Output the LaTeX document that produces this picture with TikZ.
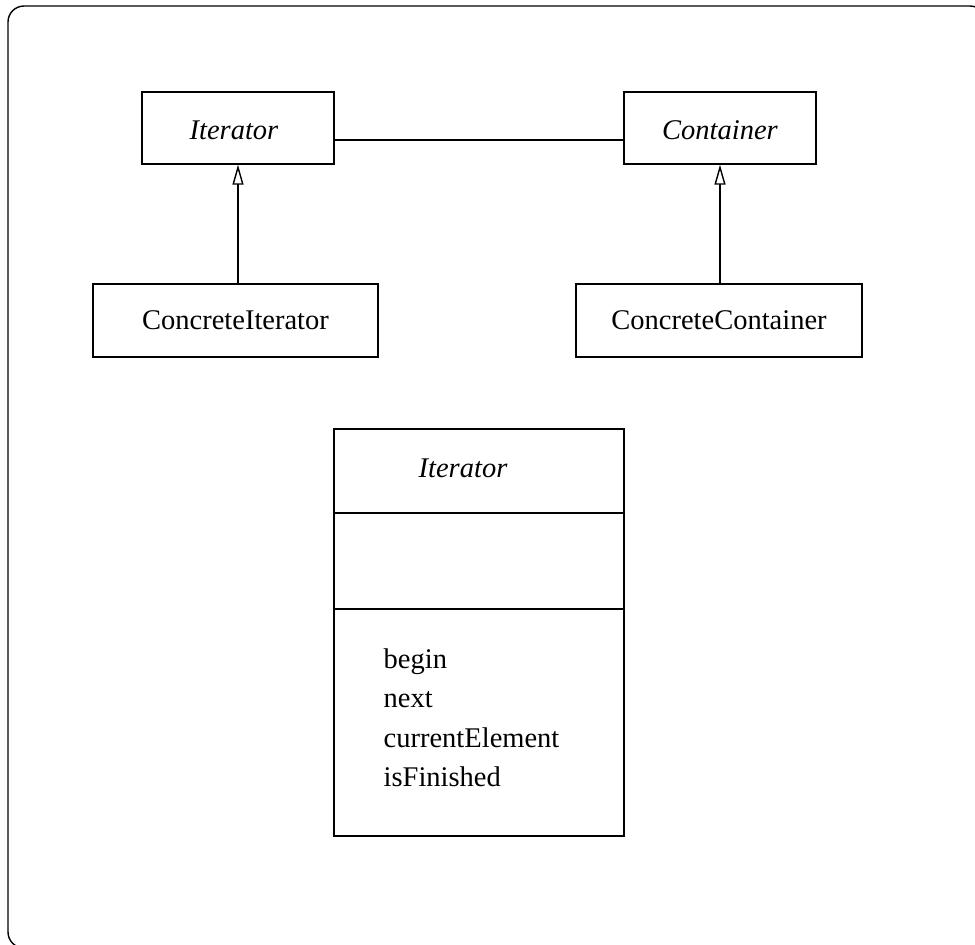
\documentclass[tikz,border=0pt]{standalone}
\usepackage{fontspec}
\setmainfont{Liberation Serif}
\usetikzlibrary{arrows.meta}
\begin{document}
\begin{tikzpicture}[x=0.5pt,y=-0.5pt,
  line width=0.7pt,
  every node/.style={font=\fontsize{14.25}{17}\selectfont},
  classbox/.style={draw, rectangle, inner sep=0pt},
  compartment/.style={draw, rectangle, inner sep=0pt, minimum width=145pt},
  label/.style={inner sep=0pt},
  oper/.style={inner sep=0pt, anchor=base west},
  inherit/.style={-{Triangle[open, length=10pt, width=5.5pt]}}
]
\useasboundingbox (0,0) rectangle (975,944);
% outer frame
\draw[rounded corners=8pt] (8,6) rectangle (986,948);

% abstract classes
\node[classbox, minimum width=96pt, minimum height=36pt] (it) at (238,128) {};
\node[label] (itl) at (234,130) {\itshape Iterator};
\node[classbox, minimum width=96pt, minimum height=36pt] (ct) at (720,128) {};
\node[label] (ctl) at (720,130) {\itshape Container};

% concrete classes
\node[classbox, minimum width=142.5pt, minimum height=36.5pt] (ci) at (235.5,320.5) {ConcreteIterator};
\node[classbox, minimum width=143pt, minimum height=36.5pt] (cc) at (719,320.5) {ConcreteContainer};

% association and generalizations
\draw ([yshift=-6pt]it.east) -- ([yshift=-6pt]ct.west);
\draw[inherit] (ci.north -| it.south) -- (it.south);
\draw[inherit] (cc.north -| ct.south) -- (ct.south);

% class detail: name, attributes, operations
\node[compartment, minimum height=42pt] (cn) at (479,471) {};
\node[compartment, minimum height=48pt] (ca) at (479,561) {};
\node[compartment, minimum height=113.5pt] (co) at (479,722.5) {};
\node[label] (cnl) at (463,468) {\itshape Iterator};
\node[oper] (op1) at (383,668) {begin};
\node[oper] (op2) at (383,707) {next};
\node[oper] (op3) at (383,747) {currentElement};
\node[oper] (op4) at (383,786) {isFinished};
\end{tikzpicture}
\end{document}
